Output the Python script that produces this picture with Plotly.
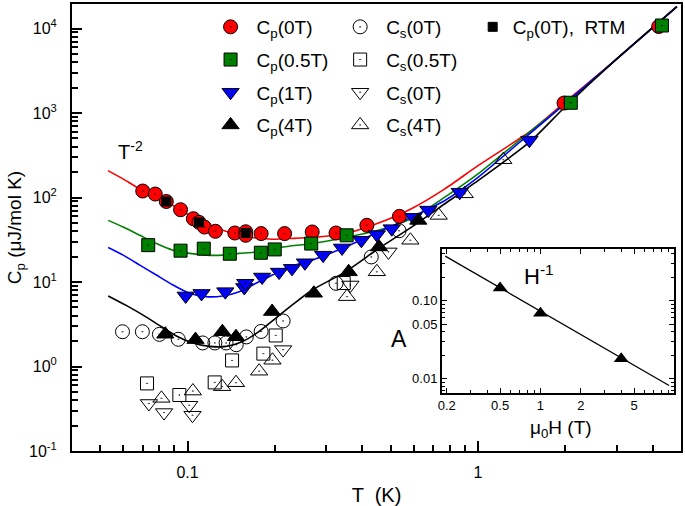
import plotly.graph_objects as go

# ---------------- data ----------------
# Cp(0T) red circles
T_cp0 = [0.0701, 0.0774, 0.0845, 0.0946, 0.1047, 0.1095, 0.1143, 0.1247, 0.1455, 0.1586, 0.1586,
         0.1792, 0.2158, 0.2686, 0.3245, 0.4145, 0.5364, 1.978, 4.19]
C_cp0 = [119.3, 109.9, 89.7, 71.7, 56.1, 50.8, 44.7, 39.8, 38.0, 39.3, 35.7,
         37.4, 37.4, 39.1, 38.0, 46.9, 59.8, 1312, 10560]
# Cp(0.5T) green squares
T_cp05 = [0.0732, 0.0946, 0.1137, 0.1398, 0.1788, 0.1996, 0.2665, 0.353, 2.087, 4.3]
C_cp05 = [27.3, 23.5, 24.8, 21.6, 22.2, 24.3, 28.5, 35.7, 1322, 10850]
# Cp(1T) blue down-triangles
T_cp1 = [0.0985, 0.1117, 0.1349, 0.1568, 0.158, 0.1806, 0.2066, 0.2289, 0.2536, 0.2929, 0.3403,
         0.3966, 0.4485, 0.5047, 0.5991, 0.6744, 0.8655, 1.503]
C_cp1 = [6.84, 7.32, 7.69, 8.62, 9.65, 11.45, 13.1, 14.5, 16.9, 20.8, 25.3,
         31.2, 36.4, 42.8, 58.2, 70.9, 115.5, 477]
# Cp(4T) black up-triangles
T_cp4 = [0.0838, 0.1065, 0.1318, 0.1468, 0.1955, 0.2722, 0.3587, 0.4563, 0.623]
C_cp4 = [2.41, 2.08, 2.58, 2.25, 4.47, 7.36, 13.2, 26.0, 53.6]
# Cs(0T) open circles
T_cs0 = [0.0597, 0.0699, 0.080, 0.0929, 0.1128, 0.1242, 0.1357, 0.1471, 0.1593, 0.1792, 0.2133,
         0.3245, 0.429, 0.535]
C_cs0 = [2.58, 2.58, 2.40, 2.10, 1.90, 1.90, 1.90, 1.81, 2.24, 2.60, 3.46,
         9.65, 19.8, 40.4]
# Cs(0.5T) open squares
T_cs05 = [0.0725, 0.0937, 0.124, 0.1423, 0.1824, 0.2012, 0.3449]
C_cs05 = [0.631, 0.46, 0.648, 1.18, 1.42, 2.33, 9.73]
# Cs(1T) open down-triangles (labelled "Cs(0T)" in the original legend)
T_cs1 = [0.0736, 0.083, 0.1013, 0.104, 0.2133, 0.3636, 0.4917]
C_cs1 = [0.365, 0.285, 0.348, 0.265, 1.585, 9.22, 22.7]
# Cs(4T) open up-triangles
T_cs4 = [0.0813, 0.1043, 0.1315, 0.1468, 0.1764, 0.196, 0.354, 0.4485, 0.585, 0.7324, 0.9005, 1.222]
C_cs4 = [0.42, 0.512, 0.577, 0.643, 0.88, 1.186, 6.71, 13.2, 31.2, 61.4, 110.5, 280]
# Cp(0T), RTM small black squares
T_rtm = [0.0845, 0.1095, 0.1586]
C_rtm = [89.7, 50.8, 38.0]

# fit curves (sampled along the drawn lines)
T_fit_red = [0.0532, 0.0599, 0.0685, 0.0781, 0.0891, 0.1016, 0.1159, 0.1321, 0.1507, 0.1719, 0.1959,
             0.2235, 0.268, 0.3496, 0.4545, 0.5895, 0.769, 1.0, 1.519, 1.981, 2.939, 4.84]
C_fit_red = [207.8, 166, 126.6, 100.8, 80.5, 61.4, 49.0, 40.9, 35.7, 33.2, 32.1,
             32.7, 33.6, 37.4, 49.8, 73.6, 126.6, 238, 614, 1322, 4090, 18150]
T_fit_green = [0.0533, 0.060, 0.0685, 0.0781, 0.0891, 0.1016, 0.1159, 0.1321, 0.1507, 0.1719, 0.1959,
               0.2235, 0.2686, 0.3496, 0.4545, 0.5904, 0.769, 1.0, 1.522, 1.981, 2.939, 4.84]
C_fit_green = [53.6, 44.7, 35.7, 28.5, 23.8, 21.8, 20.8, 20.8, 21.8, 22.7, 24.9,
               26.5, 28.5, 33.6, 40.9, 56.2, 100.8, 190, 614, 1265, 4090, 18150]
T_fit_blue = [0.0533, 0.060, 0.0685, 0.0781, 0.0891, 0.1016, 0.1159, 0.1321, 0.1507, 0.1719, 0.1959,
              0.2235, 0.2686, 0.3496, 0.4545, 0.5904, 0.769, 1.0, 1.522, 1.981, 2.939, 4.84]
C_fit_blue = [25.6, 20.8, 15.85, 12.09, 9.22, 7.36, 6.71, 6.84, 7.69, 9.65, 12.09,
              15.14, 18.15, 26.0, 39.1, 58.6, 92.2, 173, 586, 1265, 4090, 18150]
T_fit_black = [0.0533, 0.0617, 0.0703, 0.0802, 0.0915, 0.1043, 0.119, 0.1357, 0.1547, 0.1764, 0.2013,
               0.2294, 0.2686, 0.3496, 0.4545, 0.5904, 0.769, 1.0, 1.522, 1.981, 2.939, 4.84]
C_fit_black = [6.84, 5.25, 4.05, 3.05, 2.30, 1.90, 1.73, 1.73, 1.98, 2.60, 3.74,
               5.36, 8.05, 13.2, 24.9, 44.7, 84.3, 158.5, 468, 1155, 4090, 18150]

# inset
H_ins = [0.5, 1.0, 4.0]
A_ins = [0.145, 0.069, 0.018]
H_ins_fit = [0.195, 9.1]
A_ins_fit = [0.372, 0.0082]

# tick labels
x_tickvals = [0.1, 1]
x_ticktext = ["0.1", "1"]
y_tickvals = [0.1, 1, 10, 100, 1000, 10000]
y_ticktext = ["10<sup>-1</sup>", "10<sup>0</sup>", "10<sup>1</sup>", "10<sup>2</sup>",
              "10<sup>3</sup>", "10<sup>4</sup>"]
ins_x_tickvals = [0.2, 0.5, 1, 2, 5]
ins_x_ticktext = ["0.2", "0.5", "1", "2", "5"]
ins_y_tickvals = [0.01, 0.05, 0.1]
ins_y_ticktext = ["0.01", "0.05", "0.10"]

FONT = "Arial, Liberation Sans, sans-serif"

fig = go.Figure()

# fit lines
for tx, cy, col in [(T_fit_red, C_fit_red, "#ff0000"), (T_fit_green, C_fit_green, "#008000"),
                    (T_fit_blue, C_fit_blue, "#0000ff"), (T_fit_black, C_fit_black, "#000000")]:
    fig.add_trace(go.Scatter(x=tx, y=cy, mode="lines", line=dict(color=col, width=1.6, shape="spline", smoothing=0.6),
                             showlegend=False, hoverinfo="skip"))

edge = dict(color="#000000", width=1)

def add_pts(x, y, name, symbol, color, size, legend, group):
    fig.add_trace(go.Scatter(x=x, y=y, mode="markers", name=name,
                             marker=dict(symbol=symbol, color=color, size=size, line=edge),
                             legend=legend, legendgroup=group))

# open markers
add_pts(T_cs0, C_cs0, "C<sub>s</sub>(0T)", "circle-open-dot", "#000000", 14, "legend2", "s0")
add_pts(T_cs05, C_cs05, "C<sub>s</sub>(0.5T)", "square-open-dot", "#000000", 13, "legend2", "s05")
add_pts(T_cs1, C_cs1, "C<sub>s</sub>(0T)", "triangle-down-open-dot", "#000000", 15, "legend2", "s1")
add_pts(T_cs4, C_cs4, "C<sub>s</sub>(4T)", "triangle-up-open-dot", "#000000", 15, "legend2", "s4")
# filled markers
add_pts(T_cp0, C_cp0, "C<sub>p</sub>(0T)", "circle-dot", "#ff0000", 14, "legend", "p0")
add_pts(T_cp05, C_cp05, "C<sub>p</sub>(0.5T)", "square-dot", "#008000", 13, "legend", "p05")
add_pts(T_cp1, C_cp1, "C<sub>p</sub>(1T)", "triangle-down-dot", "#0000ff", 15, "legend", "p1")
add_pts(T_cp4, C_cp4, "C<sub>p</sub>(4T)", "triangle-up-dot", "#000000", 15, "legend", "p4")
add_pts(T_rtm, C_rtm, "C<sub>p</sub>(0T),  RTM", "square", "#000000", 9, "legend3", "rtm")

# inset
fig.add_trace(go.Scatter(x=H_ins_fit, y=A_ins_fit, mode="lines", line=dict(color="#000000", width=1.3),
                         xaxis="x2", yaxis="y2", showlegend=False, hoverinfo="skip"))
fig.add_trace(go.Scatter(x=H_ins, y=A_ins, mode="markers", marker=dict(symbol="triangle-up", color="#000000", size=13),
                         xaxis="x2", yaxis="y2", showlegend=False))

L, R, T, B = 72, 2, 3, 54.5
W, Hh = 685, 506
pw, ph = W - L - R, Hh - T - B

def px(x):
    return (x - L) / pw

def py(y):
    return (Hh - B - y) / ph

def legend_style(iw):
    return dict(bgcolor="rgba(0,0,0,0)", font=dict(family=FONT, size=19, color="#000000"),
                traceorder="grouped", tracegroupgap=5, xanchor="left", yanchor="top",
                itemsizing="trace", itemwidth=iw)

def label(text, x, y, size):
    return dict(text=text, x=px(x), y=py(y), xref="paper", yref="paper", showarrow=False,
                xanchor="center", yanchor="middle", font=dict(size=size))

fig.update_layout(
    width=W, height=Hh,
    margin=dict(l=L, r=R, t=T, b=B),
    paper_bgcolor="white", plot_bgcolor="white",
    font=dict(family=FONT, size=16, color="#000000"),
    legend=dict(x=px(205), y=py(7), **legend_style(42)),
    legend2=dict(x=px(335), y=py(7), **legend_style(42)),
    legend3=dict(x=px(474), y=py(7), **legend_style(30)),
    xaxis=dict(type="log", range=[-1.3979, 0.699], tickmode="array", tickvals=x_tickvals, ticktext=x_ticktext,
               ticks="inside", ticklen=10, tickwidth=1.5, tickcolor="#000000",
               showline=True, linewidth=2, linecolor="#000000", mirror=True, showgrid=False, zeroline=False,
               tickfont=dict(size=16), ticklabelstandoff=6,
               minor=dict(tickmode="array",
                          tickvals=[0.05, 0.06, 0.07, 0.08, 0.09, 0.2, 0.3, 0.4, 0.5, 0.6, 0.7, 0.8, 0.9, 2, 3, 4, 5],
                          ticks="inside", ticklen=6, tickwidth=1.5, tickcolor="#000000", showgrid=False),
               title=dict(text="T  (K)", font=dict(size=20), standoff=8)),
    yaxis=dict(type="log", range=[-1, 4.29], tickmode="array", tickvals=y_tickvals, ticktext=y_ticktext,
               ticks="inside", ticklen=10, tickwidth=1.5, tickcolor="#000000",
               showline=True, linewidth=2, linecolor="#000000", mirror=True, showgrid=False, zeroline=False,
               tickfont=dict(size=16), ticklabelstandoff=10,
               minor=dict(tickmode="array",
                          tickvals=[m * 10 ** e for e in range(-1, 5) for m in range(2, 10)],
                          ticks="inside", ticklen=6, tickwidth=1.5, tickcolor="#000000", showgrid=False),
               title=dict(text="C<sub>p</sub> (μJ/mol K)", font=dict(size=19), standoff=2)),
    xaxis2=dict(type="log", range=[-0.736, 0.996], domain=[px(443), px(676)], anchor="y2",
                tickmode="array", tickvals=ins_x_tickvals, ticktext=ins_x_ticktext,
                ticks="inside", ticklen=5, tickwidth=1, tickcolor="#000000",
                showline=True, linewidth=1.5, linecolor="#000000", mirror="ticks", showgrid=False, zeroline=False,
                tickfont=dict(size=13),
                minor=dict(tickmode="array", tickvals=[0.3, 0.4, 0.6, 0.7, 0.8, 0.9, 3, 4, 6, 7, 8, 9],
                           ticks="inside", ticklen=3, tickwidth=1, tickcolor="#000000", showgrid=False)),
    yaxis2=dict(type="log", range=[-2.179, -0.34], domain=[py(393), py(249)], anchor="x2",
                tickmode="array", tickvals=ins_y_tickvals, ticktext=ins_y_ticktext,
                ticks="inside", ticklen=5, tickwidth=1, tickcolor="#000000",
                showline=True, linewidth=1.5, linecolor="#000000", mirror="ticks", showgrid=False, zeroline=False,
                tickfont=dict(size=13),
                minor=dict(tickmode="array",
                           tickvals=[0.007, 0.008, 0.009, 0.02, 0.03, 0.04, 0.06, 0.07, 0.08, 0.09, 0.2, 0.3, 0.4],
                           ticks="inside", ticklen=3, tickwidth=1, tickcolor="#000000", showgrid=False)),
    annotations=[
        label("T<sup>-2</sup>", 131, 150, 20),
        label("A", 400, 339, 23),
        label("H<sup>-1</sup>", 541, 275, 22),
        label("μ<sub>0</sub>H (T)", 563, 429, 19),
    ],
)

fig.write_html("out.html", config={"displayModeBar": False},
               post_script="document.body.style.margin='0px';")
